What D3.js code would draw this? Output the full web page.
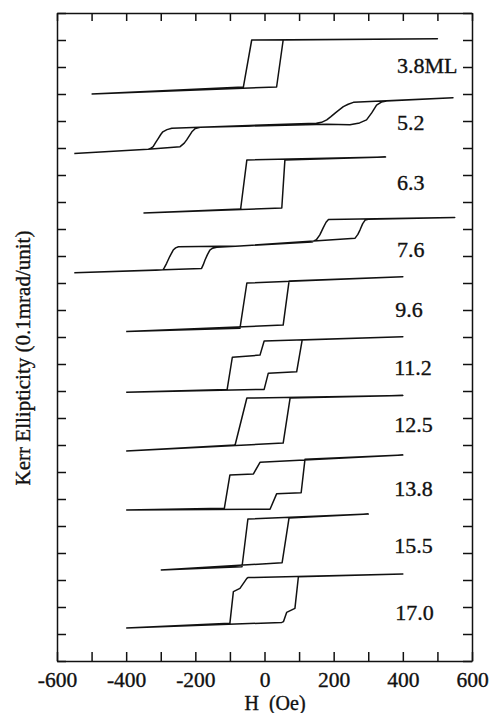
<!DOCTYPE html>
<html>
<head>
<meta charset="utf-8">
<script src="https://cdn.jsdelivr.net/npm/d3@7"></script>
<style>
    body { margin: 0; background: #fff; }
    svg text { font-family: "Liberation Serif", "Times New Roman", serif; fill: #111; stroke: #111; stroke-width: 0.35; }
</style>
</head>
<body>
<svg id="chart" width="492" height="713"></svg>
<script>
// Kerr ellipticity loops, [H (Oe), ellipticity (units, stacked)]
// each loop: ascending branch left->right, then descending branch right->left
const loop_3_8 = [[-500, 21.0], [35, 21.26], [54, 23.0], [500, 23.05],
    [-37, 23.0], [-61, 21.26], [-500, 21.0]];
const loop_5_2 = [[-550, 18.8], [-337, 18.95], [-244, 19.05], [-232, 19.18], [-225, 19.3], [-217, 19.46],
    [-210, 19.6], [-200, 19.72], [-186, 19.77],
    [180, 19.88], [247, 19.86], [275, 19.93], [295, 20.04], [310, 20.3], [324, 20.59], [338, 20.7],
    [353, 20.74], [545, 20.86],
    [257, 20.69], [242, 20.62], [228, 20.53], [215, 20.4], [205, 20.3], [192, 20.16], [180, 20.04],
    [165, 19.95], [150, 19.92],
    [-268, 19.73], [-282, 19.68], [-294, 19.6], [-300, 19.5], [-307, 19.36], [-315, 19.2], [-322, 19.05],
    [-330, 18.98], [-337, 18.95], [-550, 18.8]];
const loop_6_3 = [[-350, 16.59], [50, 16.78], [59, 18.56], [350, 18.67],
    [-51, 18.56], [-69, 16.74], [-350, 16.59]];
const loop_7_6 = [[-550, 14.38], [-182, 14.54], [-177, 14.68], [-172, 14.85], [-165, 15.05], [-158, 15.22],
    [-150, 15.29], [-138, 15.32],
    [-71, 15.37], [262, 15.66], [270, 15.8], [276, 15.96], [284, 16.2], [291, 16.33], [300, 16.36], [550, 16.43],
    [185, 16.35], [178, 16.25], [170, 16.05], [160, 15.78], [150, 15.6], [137, 15.52], [-71, 15.37],
    [-249, 15.34], [-257, 15.3], [-264, 15.22], [-274, 14.98], [-283, 14.73], [-290, 14.56], [-294, 14.48],
    [-550, 14.38]];
const loop_9_6 = [[-400, 12.2], [54, 12.44], [71, 14.07], [400, 14.23],
    [-51, 14.0], [-71, 12.32], [-400, 12.2]];
const loop_11_2 = [[-400, 9.95], [-1, 10.06], [11, 10.66], [93, 10.71], [109, 11.89], [400, 12.01],
    [-1, 11.85], [-13, 11.33], [-93, 11.25], [-108, 10.06], [-400, 9.95]];
const loop_12_5 = [[-400, 7.78], [54, 8.07], [74, 9.74], [400, 9.83],
    [-51, 9.74], [-85, 8.0], [-400, 7.78]];
const loop_13_8 = [[-400, 5.59], [16, 5.62], [35, 6.19], [106, 6.23], [117, 7.47], [400, 7.63],
    [-13, 7.36], [-32, 6.93], [-100, 6.89], [-116, 5.66], [-400, 5.59]];
const loop_15_5 = [[-300, 3.37], [51, 3.64], [71, 5.3], [300, 5.44],
    [-48, 5.26], [-65, 3.49], [-300, 3.37]];
const loop_17_0 = [[-400, 1.22], [50, 1.43], [55, 1.46], [64, 1.8], [88, 1.95], [98, 3.12], [400, 3.22],
    [-48, 3.09], [-51, 3.06], [-71, 2.69], [-90, 2.57], [-100, 1.4], [-400, 1.22]];

const loops = [loop_3_8, loop_5_2, loop_6_3, loop_7_6, loop_9_6, loop_11_2, loop_12_5, loop_13_8, loop_15_5, loop_17_0];
const labels = ["3.8ML", "5.2", "6.3", "7.6", "9.6", "11.2", "12.5", "13.8", "15.5", "17.0"];
const labelH = [383, 383, 383, 383, 378, 375, 375, 375, 375, 378];
const labelY = [21.78, 19.67, 17.44, 14.97, 12.74, 10.59, 8.48, 6.12, 4.0, 1.52];

const xTicks = d3.range(-600, 601, 100);
const yTicks = d3.range(0, 25, 1);

const svg = d3.select("#chart");
const x = d3.scaleLinear().domain([-600, 600]).range([57, 472]);
const y = d3.scaleLinear().domain([0, 24]).range([661, 13]);

function styleAxis(g) {
    g.attr("font-family", null).attr("font-size", 21.5);
    g.selectAll("path, line").attr("stroke", "#111").attr("stroke-width", 1.5);
}

svg.append("g")
    .attr("transform", "translate(0,661)")
    .call(d3.axisBottom(x).tickValues(xTicks).tickSize(-9).tickSizeOuter(0).tickPadding(11)
        .tickFormat(d => d % 200 === 0 ? String(d) : ""))
    .call(styleAxis)
    .selectAll("text").attr("fill", "#111");

svg.append("g")
    .attr("transform", "translate(0,13)")
    .call(d3.axisTop(x).tickValues(xTicks).tickSize(-8).tickSizeOuter(0).tickFormat(""))
    .call(styleAxis);

svg.append("g")
    .attr("transform", "translate(57,0)")
    .call(d3.axisLeft(y).tickValues(yTicks).tickSize(-9).tickSizeOuter(0).tickFormat(""))
    .call(styleAxis);

svg.append("g")
    .attr("transform", "translate(472,0)")
    .call(d3.axisRight(y).tickValues(yTicks).tickSize(-9).tickSizeOuter(0).tickFormat(""))
    .call(styleAxis);

const line = d3.line().x(d => x(d[0])).y(d => y(d[1]));

svg.append("g")
    .selectAll("path")
    .data(loops)
    .enter()
    .append("path")
    .attr("d", line)
    .attr("fill", "none")
    .attr("stroke", "#111")
    .attr("stroke-width", 1.5)
    .attr("stroke-linejoin", "round");

svg.append("g")
    .selectAll("text")
    .data(labels)
    .enter()
    .append("text")
    .attr("x", (d, i) => x(labelH[i]))
    .attr("y", (d, i) => y(labelY[i]))
    .attr("font-size", 22)
    .text(d => d);

svg.append("text")
    .attr("transform", "translate(30,358) rotate(-90)")
    .attr("text-anchor", "middle")
    .attr("font-size", 21)
    .text("Kerr Ellipticity (0.1mrad/unit)");

svg.append("text")
    .attr("x", 275)
    .attr("y", 710)
    .attr("text-anchor", "middle")
    .attr("font-size", 20)
    .style("white-space", "pre")
    .text("H  (Oe)");
</script>
</body>
</html>
